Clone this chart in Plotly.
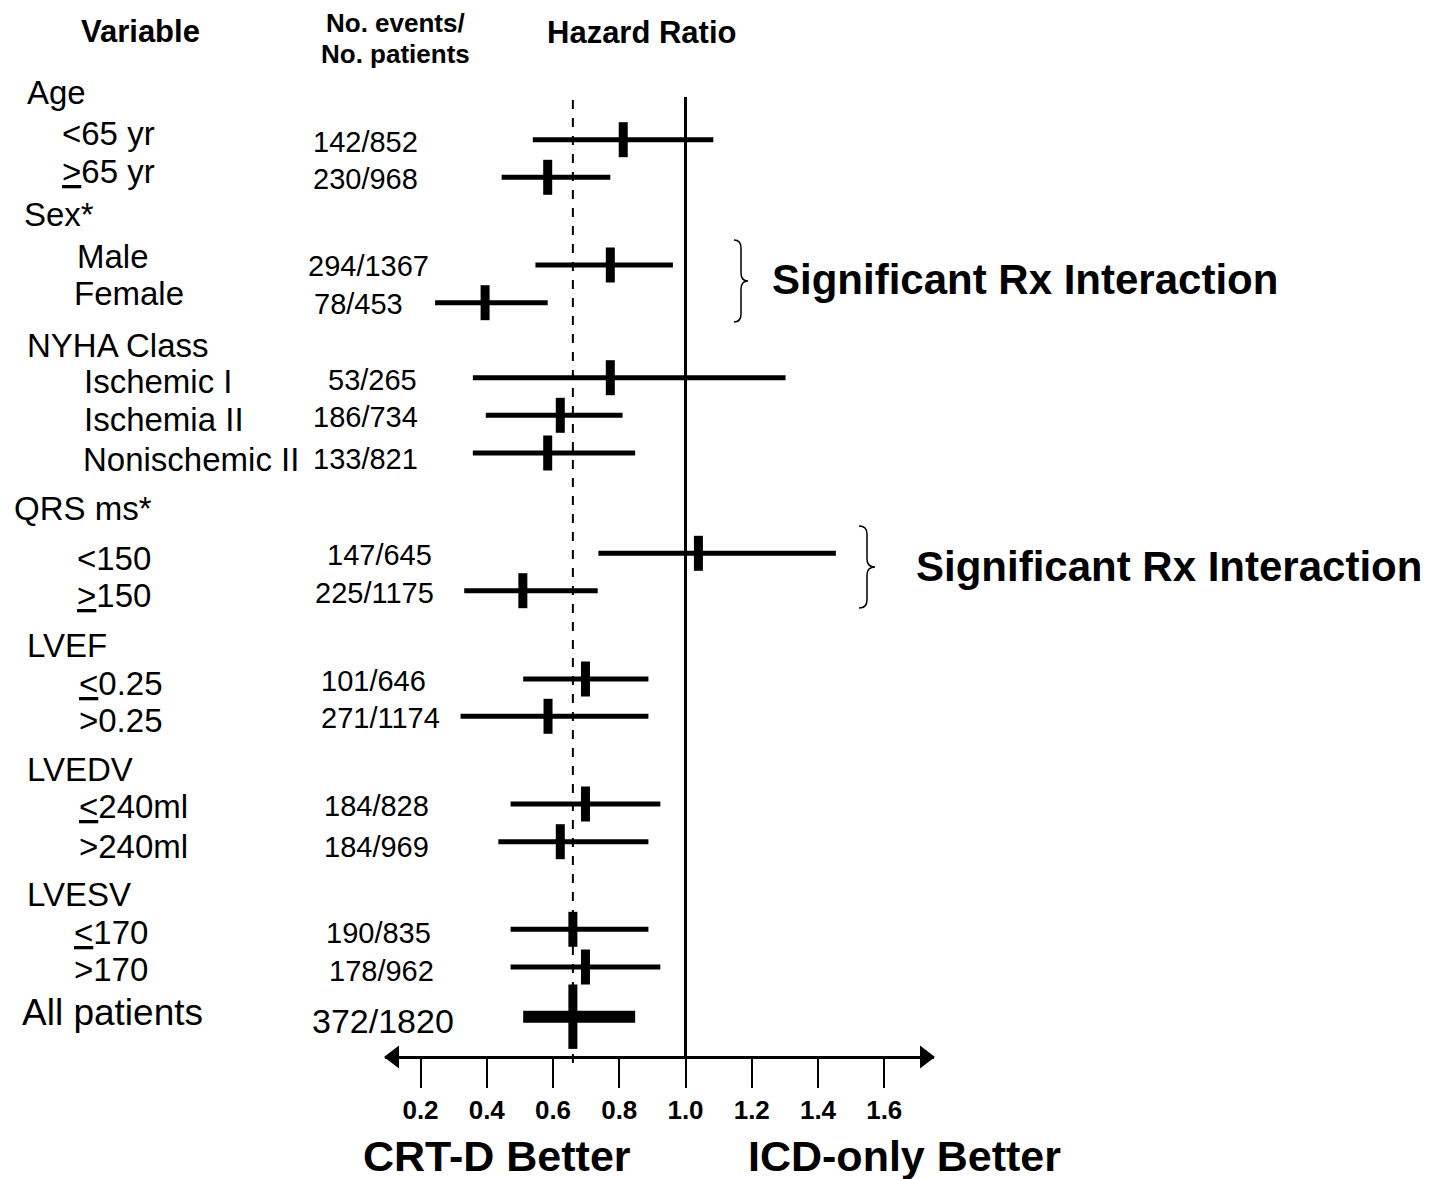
import plotly.graph_objects as go

# ---------------- data ----------------
subgroups = ["&lt;65 yr", "<u>&gt;</u>65 yr", "Male", "Female", "Ischemic I", "Ischemia II",
             "Nonischemic II", "&lt;150", "<u>&gt;</u>150", "<u>&lt;</u>0.25", "&gt;0.25",
             "<u>&lt;</u>240ml", "&gt;240ml", "<u>&lt;</u>170", "&gt;170", "All patients"]
events = ["142/852", "230/968", "294/1367", "78/453", "53/265", "186/734", "133/821",
          "147/645", "225/1175", "101/646", "271/1174", "184/828", "184/969", "190/835",
          "178/962", "372/1820"]
hr = [0.812, 0.584, 0.773, 0.395, 0.773, 0.622, 0.584, 1.039, 0.509, 0.698, 0.585,
      0.698, 0.622, 0.660, 0.698, 0.660]
ci_low = [0.539, 0.445, 0.547, 0.244, 0.358, 0.397, 0.358, 0.737, 0.332, 0.510, 0.321,
          0.472, 0.435, 0.472, 0.472, 0.510]
ci_high = [1.084, 0.773, 0.962, 0.584, 1.302, 0.810, 0.848, 1.454, 0.735, 0.888, 0.888,
           0.924, 0.888, 0.888, 0.924, 0.848]
groups = ["Age", "Sex*", "NYHA Class", "QRS ms*", "LVEF", "LVEDV", "LVESV"]
overall_hr = 0.66
tick_vals = [0.2, 0.4, 0.6, 0.8, 1.0, 1.2, 1.4, 1.6]
tick_text = ["0.2", "0.4", "0.6", "0.8", "1.0", "1.2", "1.4", "1.6"]

# ---------------- layout constants (page pixels) ----------------
PAGE_W, PAGE_H = 1441, 1179
BODY = 8                      # default page margin around the figure
W, H = PAGE_W - BODY, PAGE_H - BODY
PL, PR, PT, PB = 385, 934, 95, 1090
AXIS_Y = 1057
PX_PER_UNIT = 331.25
X0 = 1 + (PL - 685.5) / PX_PER_UNIT
X1 = 1 + (PR - 685.5) / PX_PER_UNIT

row_y = [139.7, 177.3, 265, 302.7, 377.7, 415.3, 453, 553.3, 590.7, 679, 716.3, 804,
         841.7, 929.3, 967, 1016.7]
label_x = [60, 60, 75, 72, 82, 82, 81, 75, 75, 77, 77, 77, 77, 72, 72, 20]
label_y = [133, 171, 257, 294, 382, 419, 459, 558, 595, 683, 720, 806, 846, 932, 969, 1012]
num_x = [365, 365, 368, 358, 372, 365, 365, 379, 374, 373, 380, 376, 376, 378, 381, 383]
num_y = [142, 179, 266, 304, 380, 417, 459, 555, 593, 681, 718, 806, 847, 933, 971, 1021]
group_x = [25, 22, 25, 12, 25, 25, 25]
group_y = [93, 215, 345, 508, 645, 770, 894]

FONT = "Arial, Liberation Sans, sans-serif"


def fx(p):
    return (p - PL) / (PR - PL)


def fy(p):
    return (PB - p) / (PB - PT)


fig = go.Figure()

n = len(hr)
for i in range(n):
    last = i == n - 1
    fig.add_trace(go.Scatter(
        x=[ci_low[i], ci_high[i]], y=[row_y[i], row_y[i]], mode="lines",
        line=dict(color="black", width=12 if last else 5), showlegend=False,
        hoverinfo="skip"))
    fig.add_trace(go.Scatter(
        x=[hr[i]], y=[row_y[i]], mode="markers",
        marker=dict(symbol="line-ns-open", size=46 if last else 25, color="black",
                    line=dict(color="black", width=9)),
        showlegend=False, hoverinfo="skip"))

# arrow heads of the axis
fig.add_trace(go.Scatter(
    x=[X0 + 9 / PX_PER_UNIT, X1 - 9 / PX_PER_UNIT], y=[AXIS_Y, AXIS_Y], mode="markers",
    marker=dict(symbol=["triangle-left", "triangle-right"], size=20, color="black"),
    cliponaxis=False, showlegend=False, hoverinfo="skip"))

shapes = [
    dict(type="line", xref="x", yref="y", x0=1.0, x1=1.0, y0=97, y1=AXIS_Y,
         line=dict(color="black", width=3)),
    dict(type="line", xref="x", yref="y", x0=overall_hr, x1=overall_hr, y0=100, y1=1072,
         line=dict(color="black", width=2, dash="dash")),
]


def brace(xl, xr, ytop, ybot):
    xm = (xl + xr) / 2
    ymid = (ytop + ybot) / 2
    r = 8
    pts = (f"M {fx(xl)},{fy(ytop)} Q {fx(xm)},{fy(ytop)} {fx(xm)},{fy(ytop + r)} "
           f"L {fx(xm)},{fy(ymid - r)} Q {fx(xm)},{fy(ymid)} {fx(xr)},{fy(ymid)} "
           f"Q {fx(xm)},{fy(ymid)} {fx(xm)},{fy(ymid + r)} "
           f"L {fx(xm)},{fy(ybot - r)} Q {fx(xm)},{fy(ybot)} {fx(xl)},{fy(ybot)}")
    return dict(type="path", xref="paper", yref="paper", path=pts,
                line=dict(color="black", width=1.5))


shapes.append(brace(734, 748, 240, 322))
shapes.append(brace(859, 875, 526, 608))

ann = []


def text(s, x, y, size, anchor="left", bold=False):
    ann.append(dict(text=f"<b>{s}</b>" if bold else s, x=fx(x), y=fy(y), xref="paper",
                    yref="paper", xanchor=anchor, yanchor="middle", showarrow=False,
                    font=dict(family=FONT, size=size, color="black")))


text("Variable", 140, 31, 31, "center", True)
text("No. events/", 395, 23, 26, "center", True)
text("No. patients", 395, 54, 26, "center", True)
text("Hazard Ratio", 641, 32, 31, "center", True)

for g, x, y in zip(groups, group_x, group_y):
    text(g, x, y, 33)
for i in range(n):
    last = i == n - 1
    text(subgroups[i], label_x[i], label_y[i], 37 if last else 33)
    text(events[i], num_x[i], num_y[i], 34 if last else 29, "center")

text("Significant Rx Interaction", 770, 279, 42, "left", True)
text("Significant Rx Interaction", 914, 566, 42, "left", True)
text("CRT-D Better", 497, 1156, 43, "center", True)
text("ICD-only Better", 904, 1156, 43, "center", True)

fig.update_layout(
    width=W, height=H,
    margin=dict(l=PL - BODY, r=PAGE_W - PR, t=PT - BODY, b=PAGE_H - PB),
    plot_bgcolor="white", paper_bgcolor="white",
    shapes=shapes, annotations=ann,
    xaxis=dict(range=[X0, X1], showgrid=False, zeroline=False, showline=True,
               linecolor="black", linewidth=3, anchor="free",
               position=(PB - AXIS_Y) / (PB - PT),
               ticks="outside", ticklen=29, tickwidth=2, tickcolor="black",
               tickvals=tick_vals, ticktext=[f"<b>{t}</b>" for t in tick_text],
               tickfont=dict(family=FONT, size=26, color="black")),
    yaxis=dict(range=[PB, PT], visible=False, showgrid=False, zeroline=False),
)

fig.write_html("out.html")
